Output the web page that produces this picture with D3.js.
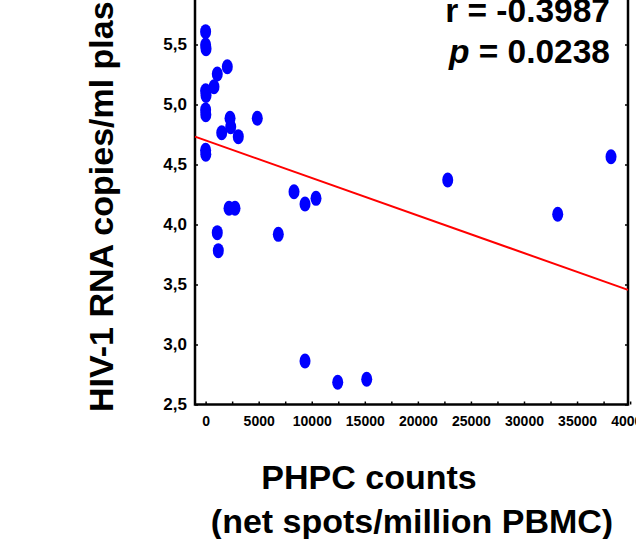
<!DOCTYPE html>
<html>
<head>
<meta charset="utf-8">
<script src="https://cdn.jsdelivr.net/npm/d3@7"></script>
<style>
  body { margin: 0; background: #fff; overflow: hidden; }
  svg { display: block; font-family: Arial, 'Liberation Sans', sans-serif; font-weight: bold; }
</style>
</head>
<body>
<div id="chart"></div>
<script>
// PHPC counts (net spots / million PBMC)
const phpc = [
  0, 0, 40, 2045, 1100, 790, 0, 40, 0, 20,
  2300, 2365, 1517, 3080, 4870, 0, 20,
  2205, 2770, 1100, 1197, 6850, 8330, 9367, 10403,
  9367, 12448, 15180, 22813, 33178, 38200
];
// HIV-1 RNA (log copies/ml plasma)
const rna = [
  5.607, 5.495, 5.465, 5.315, 5.254, 5.148, 5.115, 5.075, 4.955, 4.915,
  4.885, 4.815, 4.765, 4.732, 4.885, 4.618, 4.585,
  4.135, 4.135, 3.932, 3.782, 3.918, 4.273, 4.171, 4.218,
  2.862, 2.685, 2.71, 4.371, 4.085, 4.565
];
// regression line: [intercept, slope]
const fit = [4.701, -0.0000313];

const xTicks = d3.range(0, 40001, 2500);
const yTicks = [2.5, 3.0, 3.5, 4.0, 4.5, 5.0, 5.5, 6.0];
const stats = ['r = -0.3987', '0.0238'];

const W = 636, H = 539;

const svg = d3.select('#chart')
  .append('svg')
    .attr('width', W)
    .attr('height', H);

// scales
const x = d3.scaleLinear()
  .domain([-1000, 39800])
  .range([195, 628]);

const y = d3.scaleLinear()
  .domain([2.5, 6.0])
  .range([404.5, -15.5]);

// bottom axis, inward ticks every 2500, labels every 5000
svg.append('g')
    .attr('transform', `translate(0,${y(2.5)})`)
    .call(d3.axisBottom(x)
      .tickValues(xTicks)
      .tickSizeInner(-3)
      .tickSizeOuter(0)
      .tickPadding(12)
      .tickFormat(d => d % 5000 ? '' : d))
    .attr('font-family', null)
    .attr('font-size', 14)
    .call(g => g.select('.domain').remove())
    .call(g => g.selectAll('text').attr('fill', '#000'))
    .call(g => g.selectAll('line').attr('stroke-width', 1.5));

// left axis
svg.append('g')
    .attr('transform', `translate(${x(-1000)},0)`)
    .call(d3.axisLeft(y)
      .tickValues(yTicks)
      .tickSizeInner(-3)
      .tickSizeOuter(0)
      .tickPadding(8)
      .tickFormat(d => d3.format('.1f')(d).replace('.', ',')))
    .attr('font-family', null)
    .attr('font-size', 17)
    .call(g => g.select('.domain').remove())
    .call(g => g.selectAll('text').attr('fill', '#000'))
    .call(g => g.selectAll('line').attr('stroke-width', 1.5));

// right axis, ticks only
svg.append('g')
    .attr('transform', `translate(${x(39800)},0)`)
    .call(d3.axisRight(y)
      .tickValues(yTicks)
      .tickSizeInner(-3)
      .tickSizeOuter(0)
      .tickFormat(''))
    .call(g => g.select('.domain').remove())
    .call(g => g.selectAll('line').attr('stroke-width', 1.5));

// frame
svg.append('rect')
    .attr('x', x(-1000))
    .attr('y', y(6.0))
    .attr('width', x(39800) - x(-1000))
    .attr('height', y(2.5) - y(6.0))
    .attr('fill', 'none')
    .attr('stroke', '#000')
    .attr('stroke-width', 2.5);

// regression line
const xd = x.domain();
svg.append('line')
    .attr('x1', x(xd[0]))
    .attr('y1', y(fit[0] + fit[1] * xd[0]))
    .attr('x2', x(xd[1]))
    .attr('y2', y(fit[0] + fit[1] * xd[1]))
    .attr('stroke', '#ff0000')
    .attr('stroke-width', 2);

// points
svg.append('g')
  .selectAll('ellipse')
    .data(d3.zip(phpc, rna))
  .join('ellipse')
    .attr('cx', d => x(d[0]))
    .attr('cy', d => y(d[1]))
    .attr('rx', 5.5)
    .attr('ry', 7.5)
    .attr('fill', '#0000ff');

// correlation text
svg.append('text')
    .attr('x', 610)
    .attr('y', 22)
    .attr('text-anchor', 'end')
    .attr('font-size', 33.5)
    .text(stats[0]);

const pt = svg.append('text')
    .attr('x', 610)
    .attr('y', 63)
    .attr('text-anchor', 'end')
    .attr('font-size', 33.5);
pt.append('tspan').attr('font-style', 'italic').text('p');
pt.append('tspan').text(' = ' + stats[1]);

// axis titles
svg.append('text')
    .attr('transform', 'translate(113,412) rotate(-90)')
    .attr('font-size', 34)
    .text('HIV-1 RNA copies/ml plasma');

svg.append('text')
    .attr('x', 369)
    .attr('y', 489)
    .attr('text-anchor', 'middle')
    .attr('font-size', 34)
    .text('PHPC counts');

svg.append('text')
    .attr('x', 412)
    .attr('y', 533)
    .attr('text-anchor', 'middle')
    .attr('font-size', 34)
    .text('(net spots/million PBMC)');
</script>
</body>
</html>
